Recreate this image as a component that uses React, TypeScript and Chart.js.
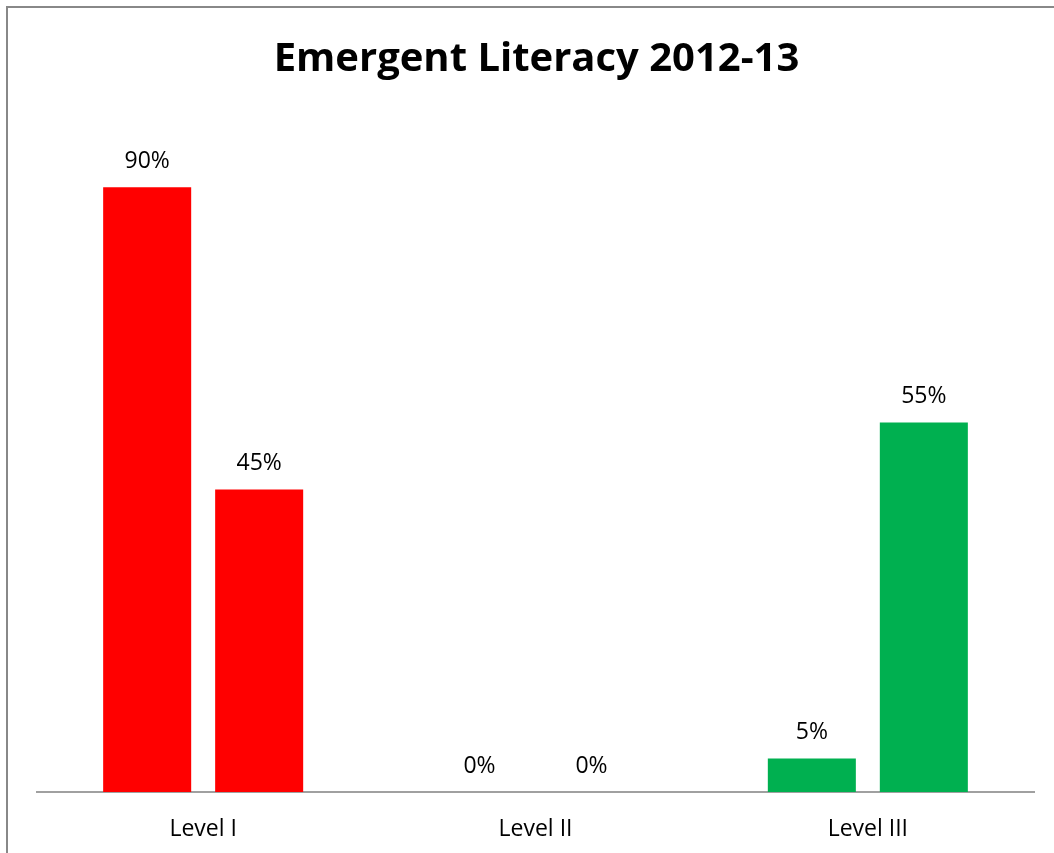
import React, { useEffect, useRef } from "react";
import { Chart, registerables } from "chart.js";

Chart.register(...registerables);

const categories = ["Level I", "Level II", "Level III"];
const seriesNames = ["Fall", "Spring"];
const fallValues = [90, 0, 5];
const springValues = [45, 0, 55];
const categoryColors = ["#FF0000", "#FFFF00", "#00B050"];
const titleText = "Emergent Literacy 2012-13";
const yMax = 100;

const FONT = "'Open Sans', sans-serif";

const dataLabelPlugin = {
  id: "dataLabels",
  afterDatasetsDraw(chart: any) {
    const ctx = chart.ctx;
    ctx.save();
    ctx.font = `23px ${FONT}`;
    ctx.fillStyle = "#000";
    ctx.textAlign = "center";
    ctx.textBaseline = "middle";
    chart.data.datasets.forEach((ds: any, di: number) => {
      const meta = chart.getDatasetMeta(di);
      meta.data.forEach((el: any, i: number) => {
        ctx.fillText(`${ds.data[i]}%`, el.x, el.y - 26);
      });
    });
    ctx.restore();
  },
};

const titlePlugin = {
  id: "customTitle",
  afterDraw(chart: any) {
    const ctx = chart.ctx;
    const area = chart.chartArea;
    ctx.save();
    ctx.font = `bold 40px ${FONT}`;
    ctx.fillStyle = "#000";
    ctx.textAlign = "center";
    ctx.textBaseline = "alphabetic";
    ctx.fillText(titleText, (area.left + area.right) / 2 + 1, 71);
    ctx.restore();
  },
};

export default function App() {
  const canvasRef = useRef<HTMLCanvasElement | null>(null);

  useEffect(() => {
    const canvas = canvasRef.current;
    if (!canvas) return;
    const chart = new Chart(canvas, {
      type: "bar",
      data: {
        labels: categories,
        datasets: [
          {
            label: seriesNames[0],
            data: fallValues,
            backgroundColor: categoryColors,
            categoryPercentage: 0.674,
            barPercentage: 0.786,
          },
          {
            label: seriesNames[1],
            data: springValues,
            backgroundColor: categoryColors,
            categoryPercentage: 0.674,
            barPercentage: 0.786,
          },
        ],
      },
      options: {
        responsive: false,
        animation: false,
        layout: { padding: { left: 37, right: 20, top: 120, bottom: 0 } },
        plugins: {
          legend: { display: false },
          title: { display: false },
          tooltip: { enabled: false },
        },
        scales: {
          x: {
            grid: { display: false },
            border: { display: true, color: "#A0A0A0", width: 2 },
            ticks: {
              color: "#000",
              font: { family: FONT, size: 23 },
              padding: 16,
            },
            afterFit(scale: any) {
              scale.height = 61;
            },
          },
          y: {
            display: false,
            min: 0,
            max: yMax,
          },
        },
      },
      plugins: [dataLabelPlugin, titlePlugin],
    });
    return () => chart.destroy();
  }, []);

  return (
    <div
      style={{
        position: "fixed",
        left: 0,
        top: 0,
        width: 1054,
        height: 853,
        overflow: "hidden",
        background: "#fff",
      }}
    >
      <div
        style={{
          position: "absolute",
          left: 6,
          top: 6,
          width: 1200,
          height: 1000,
          borderTop: "2px solid #888",
          borderLeft: "2px solid #888",
        }}
      />
      <canvas
        ref={canvasRef}
        width={1054}
        height={853}
        style={{ position: "absolute", left: 0, top: 0 }}
      />
    </div>
  );
}
